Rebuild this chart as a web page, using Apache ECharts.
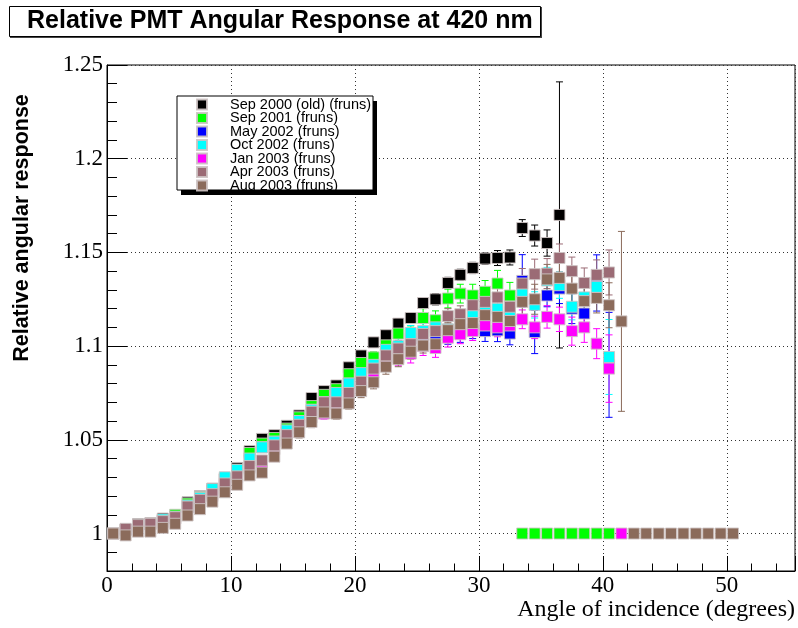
<!DOCTYPE html>
<html>
<head>
<meta charset="utf-8">
<script src="https://cdn.jsdelivr.net/npm/echarts@6/dist/echarts.min.js"></script>
<style>
  html, body { margin: 0; padding: 0; background: #ffffff; }
  #chart { width: 798px; height: 628px; }
</style>
</head>
<body>
<div id="chart"></div>
<script>
// Bin centres (degrees); one entry per 1-degree bin.
const angles = [0.5, 1.5, 2.5, 3.5, 4.5, 5.5, 6.5, 7.5, 8.5, 9.5,
  10.5, 11.5, 12.5, 13.5, 14.5, 15.5, 16.5, 17.5, 18.5, 19.5,
  20.5, 21.5, 22.5, 23.5, 24.5, 25.5, 26.5, 27.5, 28.5, 29.5,
  30.5, 31.5, 32.5, 33.5, 34.5, 35.5, 36.5, 37.5, 38.5, 39.5,
  40.5, 41.5, 42.5, 43.5, 44.5, 45.5, 46.5, 47.5, 48.5, 49.5, 50.5];

const seriesNames = ['Sep 2000 (old) (fruns)', 'Sep 2001 (fruns)', 'May 2002 (fruns)',
  'Oct 2002 (fruns)', 'Jan 2003 (fruns)', 'Apr 2003 (fruns)', 'Aug 2003 (fruns)'];
const seriesColors = ['#000000', '#00ff00', '#0000ff', '#00ffff', '#ff00ff', '#9b6b75', '#8b6b5b'];

// Relative response per bin (null = bin not drawn)
const sep2000 = [1.000, 1.002, 1.005, 1.0055, 1.008, 1.009, 1.0167, 1.020, 1.024, 1.029,
  1.035, 1.044, 1.0505, 1.0525, 1.0575, 1.063, 1.0723, 1.076, 1.079, 1.0887,
  1.095, 1.102, 1.1058, 1.112, 1.115, 1.123, 1.125, 1.1337, 1.138, 1.1417,
  1.1467, 1.147, 1.1473, 1.163, 1.159, 1.155, 1.170, null, null, null,
  null, null, null, null, null, null, null, null, null, null, null];
const sep2000Err = [0.001, 0.001, 0.001, 0.001, 0.001, 0.0015, 0.0015, 0.0015, 0.0015, 0.0015,
  0.0015, 0.002, 0.002, 0.002, 0.002, 0.002, 0.002, 0.002, 0.002, 0.002,
  0.002, 0.0025, 0.0025, 0.0025, 0.0025, 0.0025, 0.003, 0.003, 0.003, 0.003,
  0.003, 0.004, 0.004, 0.0045, 0.0056, 0.007, 0.071, null, null, null,
  null, null, null, null, null, null, null, null, null, null, null];

const sep2001 = [1.000, 1.002, 1.004, 1.005, 1.007, 1.010, 1.016, 1.0195, 1.023, 1.029,
  1.034, 1.043, 1.048, 1.051, 1.056, 1.062, 1.068, 1.074, 1.077, 1.085,
  1.091, 1.094, 1.1004, 1.1067, 1.1058, 1.115, 1.1138, 1.1254, 1.128, 1.127,
  1.129, 1.1334, 1.127, 1, 1, 1, 1, 1, 1, 1,
  1, null, null, null, null, null, null, null, null, null, null];
const sep2001Err = [0.001, 0.001, 0.001, 0.001, 0.001, 0.0015, 0.0015, 0.0015, 0.0015, 0.0015,
  0.002, 0.002, 0.002, 0.002, 0.002, 0.0025, 0.0025, 0.0025, 0.003, 0.003,
  0.003, 0.003, 0.004, 0.004, 0.005, 0.005, 0.005, 0.005, 0.005, 0.006,
  0.006, 0.007, 0.007, 0, 0, 0, 0, 0, 0, 0,
  0, null, null, null, null, null, null, null, null, null, null];

const may2002 = [1.000, 1.002, 1.004, 1.005, 1.007, 1.008, 1.014, 1.018, 1.023, 1.029,
  1.033, 1.039, 1.046, 1.049, 1.054, 1.060, 1.066, 1.070, 1.074, 1.080,
  1.085, 1.089, 1.096, 1.099, 1.104, 1.105, 1.106, 1.106, 1.107, 1.109,
  1.108, 1.1084, 1.1067, 1.1348, 1.1075, 1.127, 1.1307, 1.120, 1.1174, 1.1337,
  1.090, null, null, null, null, null, null, null, null, null, null];
const may2002Err = [0.001, 0.001, 0.001, 0.001, 0.0015, 0.0015, 0.0015, 0.0015, 0.002, 0.002,
  0.002, 0.002, 0.002, 0.0025, 0.0025, 0.0025, 0.003, 0.003, 0.003, 0.003,
  0.0035, 0.0035, 0.004, 0.004, 0.004, 0.0045, 0.0045, 0.005, 0.005, 0.005,
  0.0055, 0.006, 0.006, 0.014, 0.0115, 0.006, 0.008, 0.008, 0.008, 0.015,
  0.028, null, null, null, null, null, null, null, null, null, null];

const oct2002 = [1.000, 1.002, 1.004, 1.005, 1.0075, 1.009, 1.015, 1.019, 1.0237, 1.030,
  1.034, 1.040, 1.046, 1.049, 1.055, 1.060, 1.066, 1.070, 1.075, 1.080,
  1.0856, 1.090, 1.098, 1.100, 1.107, 1.108, 1.110, 1.109, 1.112, 1.117,
  1.119, 1.120, 1.118, 1.129, 1.122, 1.135, 1.1325, 1.121, 1.126, 1.1316,
  1.0942, null, null, null, null, null, null, null, null, null, null];
const oct2002Err = [0.001, 0.001, 0.001, 0.001, 0.0015, 0.0015, 0.0015, 0.0015, 0.0015, 0.002,
  0.002, 0.002, 0.002, 0.002, 0.0025, 0.0025, 0.0025, 0.003, 0.003, 0.003,
  0.003, 0.0035, 0.0035, 0.004, 0.004, 0.004, 0.0045, 0.0045, 0.005, 0.005,
  0.005, 0.0055, 0.006, 0.007, 0.007, 0.007, 0.007, 0.007, 0.007, 0.008,
  0.020, null, null, null, null, null, null, null, null, null, null];

const jan2003 = [1.000, 1.002, 1.004, 1.005, 1.006, 1.008, 1.014, 1.017, 1.020, 1.026,
  1.030, 1.035, 1.038, 1.045, 1.050, 1.056, 1.062, 1.064, 1.069, 1.074,
  1.078, 1.086, 1.091, 1.094, 1.096, 1.100, 1.099, 1.1045, 1.1063, 1.108,
  1.111, 1.110, 1.111, 1.1143, 1.110, 1.1156, 1.1143, 1.108, 1.110, 1.1013,
  1.088, 1, null, null, null, null, null, null, null, null, null];
const jan2003Err = [0.001, 0.001, 0.001, 0.001, 0.0015, 0.0015, 0.0015, 0.0015, 0.002, 0.002,
  0.002, 0.002, 0.0025, 0.0025, 0.0025, 0.003, 0.003, 0.003, 0.003, 0.0035,
  0.0035, 0.004, 0.0045, 0.0045, 0.005, 0.005, 0.005, 0.005, 0.005, 0.005,
  0.005, 0.005, 0.005, 0.005, 0.006, 0.006, 0.0065, 0.0075, 0.008, 0.008,
  0.018, 0, null, null, null, null, null, null, null, null, null];

const apr2003 = [1.000, 1.0025, 1.0045, 1.0052, 1.0066, 1.0087, 1.0144, 1.018, 1.021, 1.0267,
  1.0305, 1.036, 1.039, 1.047, 1.0525, 1.058, 1.065, 1.070, 1.070, 1.075,
  1.081, 1.088, 1.095, 1.0987, 1.101, 1.1065, 1.108, 1.116, 1.117, 1.1218,
  1.1236, 1.126, 1.121, 1.1334, 1.1384, 1.1387, 1.147, 1.140, 1.1337, 1.138,
  1.1393, null, null, null, null, null, null, null, null, null, null];
const apr2003Err = [0.001, 0.001, 0.001, 0.001, 0.0015, 0.0015, 0.0015, 0.0015, 0.002, 0.002,
  0.002, 0.002, 0.0025, 0.0025, 0.0025, 0.003, 0.003, 0.003, 0.003, 0.003,
  0.0035, 0.0035, 0.004, 0.004, 0.004, 0.004, 0.004, 0.004, 0.0045, 0.0045,
  0.0045, 0.005, 0.005, 0.008, 0.008, 0.008, 0.0075, 0.0075, 0.008, 0.008,
  0.012, null, null, null, null, null, null, null, null, null, null];

const aug2003 = [1.000, 0.999, 1.001, 1.001, 1.003, 1.0052, 1.0096, 1.013, 1.017, 1.022,
  1.026, 1.031, 1.0325, 1.041, 1.048, 1.054, 1.0595, 1.0646, 1.064, 1.0694,
  1.076, 1.0807, 1.089, 1.093, 1.097, 1.1003, 1.101, 1.1085, 1.1117, 1.1123,
  1.1165, 1.1156, 1.1134, 1.1236, 1.125, 1.1356, 1.1364, 1.1307, 1.124, 1.1257,
  1.1218, 1.1132, 1, 1, 1, 1, 1, 1, 1, 1, 1];
const aug2003Err = [0.001, 0.001, 0.001, 0.001, 0.0015, 0.0015, 0.0015, 0.0015, 0.002, 0.002,
  0.002, 0.002, 0.0025, 0.0025, 0.0025, 0.003, 0.003, 0.003, 0.003, 0.003,
  0.0035, 0.0035, 0.004, 0.004, 0.004, 0.004, 0.004, 0.004, 0.0045, 0.0045,
  0.0045, 0.005, 0.005, 0.008, 0.008, 0.008, 0.008, 0.008, 0.008, 0.008,
  0.012, 0.048, 0, 0, 0, 0, 0, 0, 0, 0, 0];

const yTickValues = [1, 1.05, 1.1, 1.15, 1.2, 1.25];

const allValues = [sep2000, sep2001, may2002, oct2002, jan2003, apr2003, aug2003];
const allErrors = [sep2000Err, sep2001Err, may2002Err, oct2002Err, jan2003Err, apr2003Err, aug2003Err];

const chart = echarts.init(document.getElementById('chart'), null, { renderer: 'canvas' });

// Vertical error bar with small caps, drawn in data coordinates.
function errorBarSeries(name, color, vals, errs) {
  const data = [];
  for (let i = 0; i < angles.length; i++) {
    if (vals[i] != null && errs[i]) {
      data.push([angles[i], vals[i] - errs[i], vals[i] + errs[i]]);
    }
  }
  return {
    type: 'custom',
    name: name + ' errors',
    xAxisIndex: 0,
    yAxisIndex: 0,
    silent: true,
    encode: { x: 0, y: [1, 2] },
    data: data,
    renderItem: function (params, api) {
      const lo = api.coord([api.value(0), api.value(1)]);
      const hi = api.coord([api.value(0), api.value(2)]);
      const cap = 3.5;
      const st = { stroke: color, lineWidth: 1 };
      return {
        type: 'group',
        children: [
          { type: 'line', shape: { x1: lo[0], y1: lo[1], x2: hi[0], y2: hi[1] }, style: st },
          { type: 'line', shape: { x1: lo[0] - cap, y1: lo[1], x2: lo[0] + cap, y2: lo[1] }, style: st },
          { type: 'line', shape: { x1: hi[0] - cap, y1: hi[1], x2: hi[0] + cap, y2: hi[1] }, style: st }
        ]
      };
    }
  };
}

function markerSeries(name, color, vals) {
  const data = [];
  for (let i = 0; i < angles.length; i++) {
    if (vals[i] != null) data.push([angles[i], vals[i]]);
  }
  return {
    type: 'scatter',
    name: name,
    xAxisIndex: 0,
    yAxisIndex: 0,
    symbol: 'rect',
    symbolSize: 11,
    data: data,
    itemStyle: { color: color, opacity: 1, borderColor: 'rgba(205,195,195,0.9)', borderWidth: 1 },
    emphasis: { disabled: true }
  };
}

const series = [];
for (let k = 0; k < seriesNames.length; k++) {
  series.push(errorBarSeries(seriesNames[k], seriesColors[k], allValues[k], allErrors[k]));
  series.push(markerSeries(seriesNames[k], seriesColors[k], allValues[k]));
}

const serif = 'Liberation Serif, Times New Roman, serif';
const sans = 'Liberation Sans, Arial, Helvetica, sans-serif';
const dotted = { type: [1, 3], color: '#333', width: 1 };

const option = {
  animation: false,
  backgroundColor: '#ffffff',
  title: {
    text: 'Relative PMT Angular Response at 420 nm',
    left: 9,
    top: 6,
    padding: [3, 8, 3, 18],
    backgroundColor: '#ffffff',
    borderColor: '#000',
    borderWidth: 1,
    z: 12,
    textStyle: { fontFamily: sans, fontWeight: 'bold', fontSize: 25, color: '#000', lineHeight: 25 }
  },
  legend: {
    data: seriesNames,
    orient: 'vertical',
    left: 177,
    top: 96,
    padding: [1, 6, 0, 19],
    itemWidth: 10,
    itemHeight: 10,
    itemGap: -1.5,
    z: 12,
    selectedMode: false,
    textStyle: { fontFamily: sans, fontSize: 14.5, color: '#000', lineHeight: 13.5, padding: [0, 0, 0, 18] }
  },
  grid: {
    left: 107, top: 65, right: 3, bottom: 57,
    show: true, borderColor: '#000', borderWidth: 1, backgroundColor: 'transparent'
  },
  xAxis: [
    {
      type: 'value', min: 0, max: 55.5, interval: 2, position: 'bottom',
      axisLine: { show: true, lineStyle: { color: '#000', width: 1 } },
      axisTick: { show: true, inside: true, length: 7.5, lineStyle: { color: '#000' } },
      axisLabel: { show: false },
      splitLine: { show: false }
    },
    {
      type: 'value', min: 0, max: 55.5, interval: 10, position: 'bottom',
      axisLine: { show: false },
      axisTick: { show: true, inside: true, length: 15, lineStyle: { color: '#000' } },
      axisLabel: {
        show: true, margin: 3, color: '#000', fontFamily: serif, fontSize: 23,
        formatter: function (v) { return Math.abs(v % 10) < 1e-6 ? String(v) : ''; }
      },
      splitLine: { show: true, lineStyle: dotted }
    }
  ],
  yAxis: [
    {
      type: 'value', min: 0.98, max: 1.25, interval: 0.01, position: 'left',
      axisLine: { show: true, lineStyle: { color: '#000', width: 1 } },
      axisTick: { show: true, inside: true, length: 10, lineStyle: { color: '#000' } },
      axisLabel: { show: false },
      splitLine: { show: false }
    },
    {
      type: 'value', min: 0.98, max: 1.25, position: 'left',
      axisLine: { show: false },
      axisTick: { show: true, inside: true, length: 20, customValues: yTickValues, lineStyle: { color: '#000' } },
      axisLabel: {
        show: true, margin: 4, color: '#000', fontFamily: serif, fontSize: 23,
        customValues: yTickValues,
        formatter: function (v) { return String(+(+v).toFixed(2)); }
      },
      splitLine: { show: true, lineStyle: dotted }
    }
  ],
  graphic: [
    // legend frame with drop shadow
    { type: 'rect', z: 10, shape: { x: 181, y: 101, width: 196, height: 94 }, style: { fill: '#000' } },
    { type: 'rect', z: 11, shape: { x: 177, y: 96, width: 196, height: 94 }, style: { fill: '#fff', stroke: '#000', lineWidth: 1 } },
    // title drop shadow
    { type: 'rect', z: 11, shape: { x: 10, y: 7, width: 532, height: 31 }, style: { fill: '#444' } },
    {
      type: 'text', z: 12, x: 22, y: 228, rotation: Math.PI / 2,
      style: { text: 'Relative angular response', fontFamily: sans, fontWeight: 'bold', fontSize: 21.5,
        fill: '#000', align: 'center', verticalAlign: 'middle' }
    },
    {
      type: 'text', z: 12, x: 795, y: 610,
      style: { text: 'Angle of incidence (degrees)', fontFamily: serif, fontSize: 24,
        fill: '#000', align: 'right', verticalAlign: 'middle' }
    }
  ],
  series: series
};

chart.setOption(option);
</script>
</body>
</html>
